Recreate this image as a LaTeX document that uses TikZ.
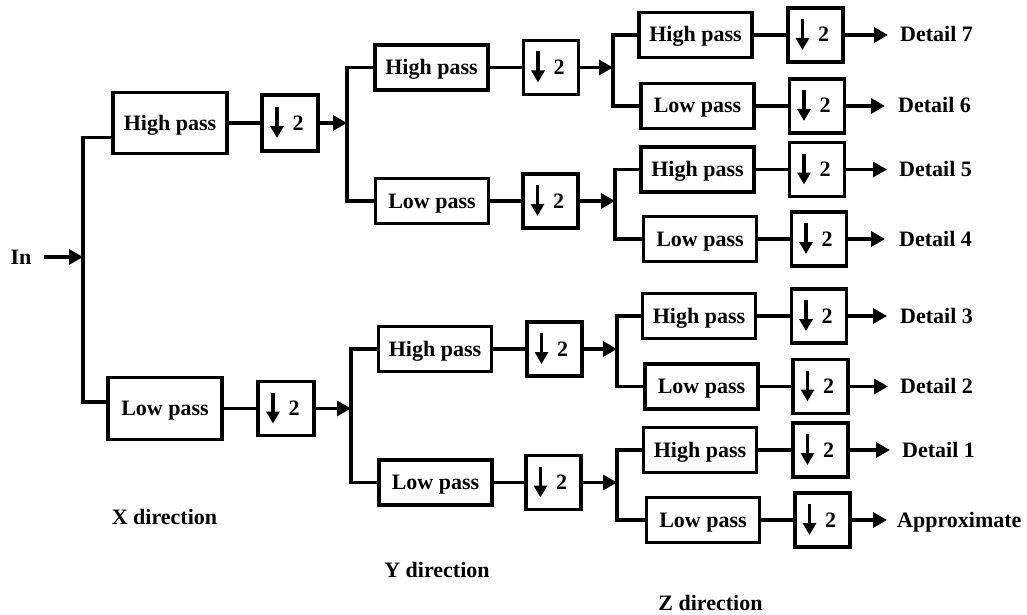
\documentclass[tikz,border=0pt]{standalone}
\usepackage{fontspec}
\setmainfont{Liberation Serif}
\usetikzlibrary{arrows.meta,calc}
\tikzset{
  wire/.style={line width=3.3pt},
  arr/.style={wire,-{Triangle[length=14pt,width=15pt]}},
  filt/.style={draw,line width=3.3pt,minimum width=113pt,minimum height=45pt,inner sep=0pt,
    text height=15pt,text depth=1pt},
  dbox/.style={draw,line width=3.3pt,minimum width=55pt,minimum height=54pt,inner sep=0pt,
    text height=15pt,text depth=1pt,
    path picture={\draw[line width=3.2pt,-{Triangle[length=12pt,width=13pt]}]
      ($(path picture bounding box.center)+(-13pt,16pt)$) --
      ($(path picture bounding box.center)+(-13pt,-15pt)$);}},
  lbl/.style={inner sep=0pt,text height=15pt,text depth=1pt},
}
\newcommand{\dtwo}{\hspace*{16pt}2}
\begin{document}
\begin{tikzpicture}[x=1pt,y=-1pt,font=\fontsize{22}{26}\selectfont\bfseries]
\useasboundingbox (0,0) rectangle (1027,615);

% X stage
\node[lbl] (in) at (21,257) {In};
\coordinate (jx) at (83,257);
\draw[arr,shorten <=12pt] (in) -- (jx);
\node[filt,minimum height=61pt,minimum width=114pt] (hx) at (170,123) {High pass};
\node[filt,minimum height=62pt,minimum width=114pt] (lx) at (165,408.5) {Low pass};
\draw[wire] ($(hx.west)+(0,14.5)$) -| (jx) |- ($(lx.west)+(0,-6.5)$);
\node[dbox,minimum width=56pt,minimum height=56pt] (dx1) at (290,123) {\dtwo};
\node[dbox,minimum width=56pt] (dx2) at (286,408.5) {\dtwo};
\draw[wire] (hx) -- (dx1);
\draw[wire] (lx) -- (dx2);
\coordinate (jy1) at (347,123);
\coordinate (jy2) at (351,408.5);
\draw[arr] (dx1) -- (jy1);
\draw[arr] (dx2) -- (jy2);

% Y stage, upper
\node[filt] (hy1) at (431.5,67.5) {High pass};
\node[filt] (ly1) at (432,201) {Low pass};
\draw[wire] (hy1.west) -| (jy1) |- (ly1.west);
\node[dbox] (dy1) at (551,67.5) {\dtwo};
\node[dbox] (dy2) at (550.5,201) {\dtwo};
\draw[wire] (hy1) -- (dy1);
\draw[wire] (ly1) -- (dy2);
% Y stage, lower
\node[filt] (hy2) at (435,349) {High pass};
\node[filt] (ly2) at (435.5,482.5) {Low pass};
\draw[wire] (hy2.west) -| (jy2) |- (ly2.west);
\node[dbox] (dy3) at (554.5,349) {\dtwo};
\node[dbox] (dy4) at (553.5,482.5) {\dtwo};
\draw[wire] (hy2) -- (dy3);
\draw[wire] (ly2) -- (dy4);

\coordinate (jz1) at (613,67.5);
\coordinate (jz2) at (615,201);
\coordinate (jz3) at (617,349);
\coordinate (jz4) at (617,482.5);
\draw[arr] (dy1) -- (jz1);
\draw[arr] (dy2) -- (jz2);
\draw[arr] (dy3) -- (jz3);
\draw[arr] (dy4) -- (jz4);

% Z stage
\node[filt] (hz1) at (695.5,35) {High pass};
\node[filt] (lz1) at (697.5,106) {Low pass};
\node[filt] (hz2) at (697.5,169.5) {High pass};
\node[filt] (lz2) at (700,239) {Low pass};
\node[filt] (hz3) at (699,316) {High pass};
\node[filt] (lz3) at (701.5,386.5) {Low pass};
\node[filt] (hz4) at (700,450) {High pass};
\node[filt] (lz4) at (703,520) {Low pass};
\draw[wire] (hz1.west) -| (jz1) |- (lz1.west);
\draw[wire] (hz2.west) -| (jz2) |- (lz2.west);
\draw[wire] (hz3.west) -| (jz3) |- (lz3.west);
\draw[wire] (hz4.west) -| (jz4) |- (lz4.west);

\node[dbox] (ez1) at (815.5,35) {\dtwo};
\node[dbox] (ez2) at (817,106) {\dtwo};
\node[dbox] (ez3) at (817,169.5) {\dtwo};
\node[dbox] (ez4) at (819,239) {\dtwo};
\node[dbox] (ez5) at (819,316) {\dtwo};
\node[dbox] (ez6) at (820.5,386.5) {\dtwo};
\node[dbox] (ez7) at (820.5,450) {\dtwo};
\node[dbox] (ez8) at (822.5,520) {\dtwo};
\draw[wire] (hz1) -- (ez1);
\draw[wire] (lz1) -- (ez2);
\draw[wire] (hz2) -- (ez3);
\draw[wire] (lz2) -- (ez4);
\draw[wire] (hz3) -- (ez5);
\draw[wire] (lz3) -- (ez6);
\draw[wire] (hz4) -- (ez7);
\draw[wire] (lz4) -- (ez8);

\node[lbl,anchor=west] (o7) at (900,35) {Detail 7};
\node[lbl,anchor=west] (o6) at (898,106) {Detail 6};
\node[lbl,anchor=west] (o5) at (899,169.5) {Detail 5};
\node[lbl,anchor=west] (o4) at (899,239) {Detail 4};
\node[lbl,anchor=west] (o3) at (900,316) {Detail 3};
\node[lbl,anchor=west] (o2) at (900,386.5) {Detail 2};
\node[lbl,anchor=west] (o1) at (902,450) {Detail 1};
\node[lbl,anchor=west] (o0) at (897,520) {Approximate};
\draw[arr,shorten >=12pt] (ez1) -- (o7);
\draw[arr,shorten >=13pt] (ez2) -- (o6);
\draw[arr,shorten >=12pt] (ez3) -- (o5);
\draw[arr,shorten >=14pt] (ez4) -- (o4);
\draw[arr,shorten >=13pt] (ez5) -- (o3);
\draw[arr,shorten >=12pt] (ez6) -- (o2);
\draw[arr,shorten >=12pt] (ez7) -- (o1);
\draw[arr,shorten >=10pt] (ez8) -- (o0);

% direction labels
\node[lbl] (xd) at (164.5,517) {X direction};
\node[lbl] (yd) at (437,570) {Y direction};
\node[lbl] (zd) at (710.5,603) {Z direction};
\end{tikzpicture}
\end{document}
